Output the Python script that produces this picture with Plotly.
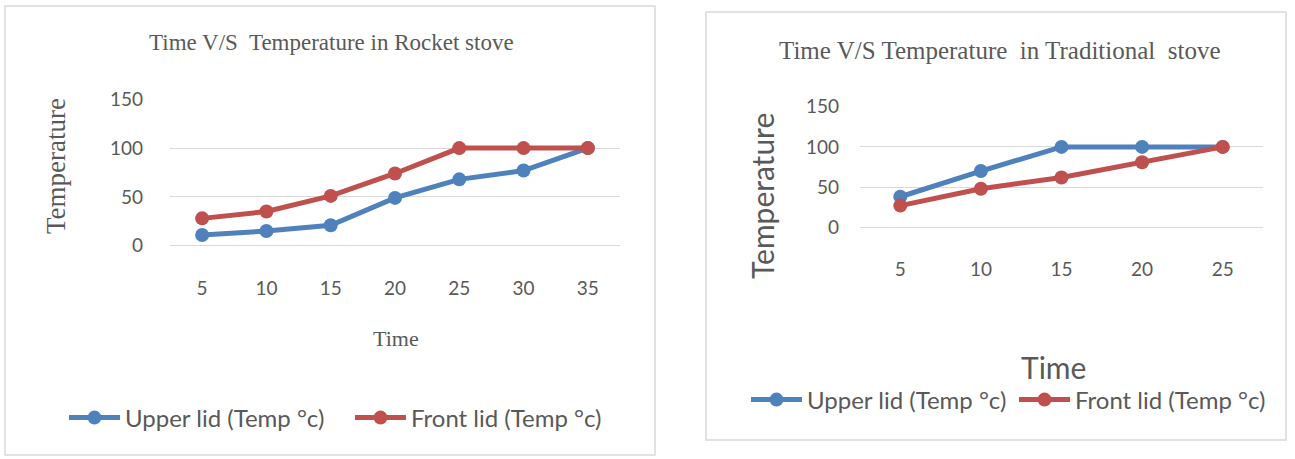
import plotly.graph_objects as go

# ---- data ----
rocket_time = ["5", "10", "15", "20", "25", "30", "35"]
rocket_upper = [11, 15, 21, 49, 68, 77, 100]
rocket_front = [28, 35, 51, 74, 100, 100, 100]

trad_time = ["5", "10", "15", "20", "25"]
trad_upper = [38, 70, 100, 100, 100]
trad_front = [27, 48, 62, 81, 100]

y_ticks = [0, 50, 100, 150]
series_names = ["Upper lid (Temp °c)", "Front lid (Temp °c)"]

W, H = 1295, 459
BLUE = "#4F81BD"
RED = "#C0504D"
GRID = "#d9d9d9"
TXT = "#595959"
SERIF = "Liberation Serif"
SANS = "Lato"


def px(x):
    return x / W


def py(y):
    return 1 - y / H


fig = go.Figure()

for name, vals, col in [(series_names[0], rocket_upper, BLUE), (series_names[1], rocket_front, RED)]:
    fig.add_trace(go.Scatter(
        x=rocket_time, y=vals, name=name, mode="lines+markers",
        line=dict(color=col, width=5), marker=dict(color=col, size=14),
        xaxis="x", yaxis="y", legend="legend", cliponaxis=False,
    ))

for name, vals, col in [(series_names[0], trad_upper, BLUE), (series_names[1], trad_front, RED)]:
    fig.add_trace(go.Scatter(
        x=trad_time, y=vals, name=name, mode="lines+markers",
        line=dict(color=col, width=5), marker=dict(color=col, size=14),
        xaxis="x2", yaxis="y2", legend="legend2", cliponaxis=False,
    ))

axis_common = dict(showline=False, ticks="", fixedrange=True, automargin=False)

fig.update_layout(
    width=W, height=H,
    margin=dict(l=0, r=0, t=0, b=0, pad=0, autoexpand=False),
    paper_bgcolor="white", plot_bgcolor="white",
    xaxis=dict(domain=[px(170), px(620)], anchor="y", type="category",
               range=[-0.5, len(rocket_time) - 0.5], showgrid=False,
               tickfont=dict(family=SANS, size=19, color=TXT),
               ticklabelstandoff=29, **axis_common),
    yaxis=dict(domain=[py(245.7), py(99.3)], anchor="x", range=[0, 150],
               tickvals=y_ticks, showgrid=True, gridcolor=GRID, gridwidth=1,
               zeroline=True, zerolinecolor=GRID, zerolinewidth=1,
               tickfont=dict(family=SANS, size=19, color=TXT),
               ticklabelstandoff=26, **axis_common),
    xaxis2=dict(domain=[px(860), px(1263)], anchor="y2", type="category",
                range=[-0.5, len(trad_time) - 0.5], showgrid=False,
                tickfont=dict(family=SANS, size=19, color=TXT),
                ticklabelstandoff=29, **axis_common),
    yaxis2=dict(domain=[py(227.3), py(106.7)], anchor="x2", range=[0, 150],
                tickvals=y_ticks, showgrid=True, gridcolor=GRID, gridwidth=1,
                zeroline=True, zerolinecolor=GRID, zerolinewidth=1,
                tickfont=dict(family=SANS, size=19, color=TXT),
                ticklabelstandoff=20, **axis_common),
    legend=dict(orientation="h", x=px(64), y=py(418), xanchor="left", yanchor="middle",
                itemwidth=51, entrywidth=220, entrywidthmode="pixels",
                font=dict(family=SANS, size=24, color=TXT), bgcolor="rgba(0,0,0,0)"),
    legend2=dict(orientation="h", x=px(746), y=py(400), xanchor="left", yanchor="middle",
                 itemwidth=51, entrywidth=202, entrywidthmode="pixels",
                 font=dict(family=SANS, size=24, color=TXT), bgcolor="rgba(0,0,0,0)"),
    showlegend=True,
)

# chart boxes
fig.add_shape(type="rect", xref="paper", yref="paper", x0=px(5), x1=px(655), y0=py(455), y1=py(6),
              line=dict(color=GRID, width=1.5), fillcolor="rgba(0,0,0,0)", layer="below")
fig.add_shape(type="rect", xref="paper", yref="paper", x0=px(706), x1=px(1286), y0=py(440), y1=py(12),
              line=dict(color=GRID, width=1.5), fillcolor="rgba(0,0,0,0)", layer="below")

ann = [
    dict(text="Time V/S  Temperature in Rocket stove", x=px(331), y=py(42),
         font=dict(family=SERIF, size=23, color=TXT)),
    dict(text="Temperature", x=px(56), y=py(166), textangle=-90,
         font=dict(family=SERIF, size=27, color=TXT)),
    dict(text="Time", x=px(396), y=py(338),
         font=dict(family=SERIF, size=22, color=TXT)),
    dict(text="Time V/S Temperature  in Traditional  stove", x=px(1000), y=py(50),
         font=dict(family=SERIF, size=25, color=TXT)),
    dict(text="Temperature", x=px(762), y=py(196), textangle=-90,
         font=dict(family=SANS, size=30, color=TXT)),
    dict(text="Time", x=px(1053), y=py(367),
         font=dict(family=SANS, size=30, color=TXT)),
]
for a in ann:
    fig.add_annotation(xref="paper", yref="paper", showarrow=False,
                       xanchor="center", yanchor="middle", **a)

fig.write_html("out.html", config={"displayModeBar": False},
               post_script="document.body.style.margin='0';")
